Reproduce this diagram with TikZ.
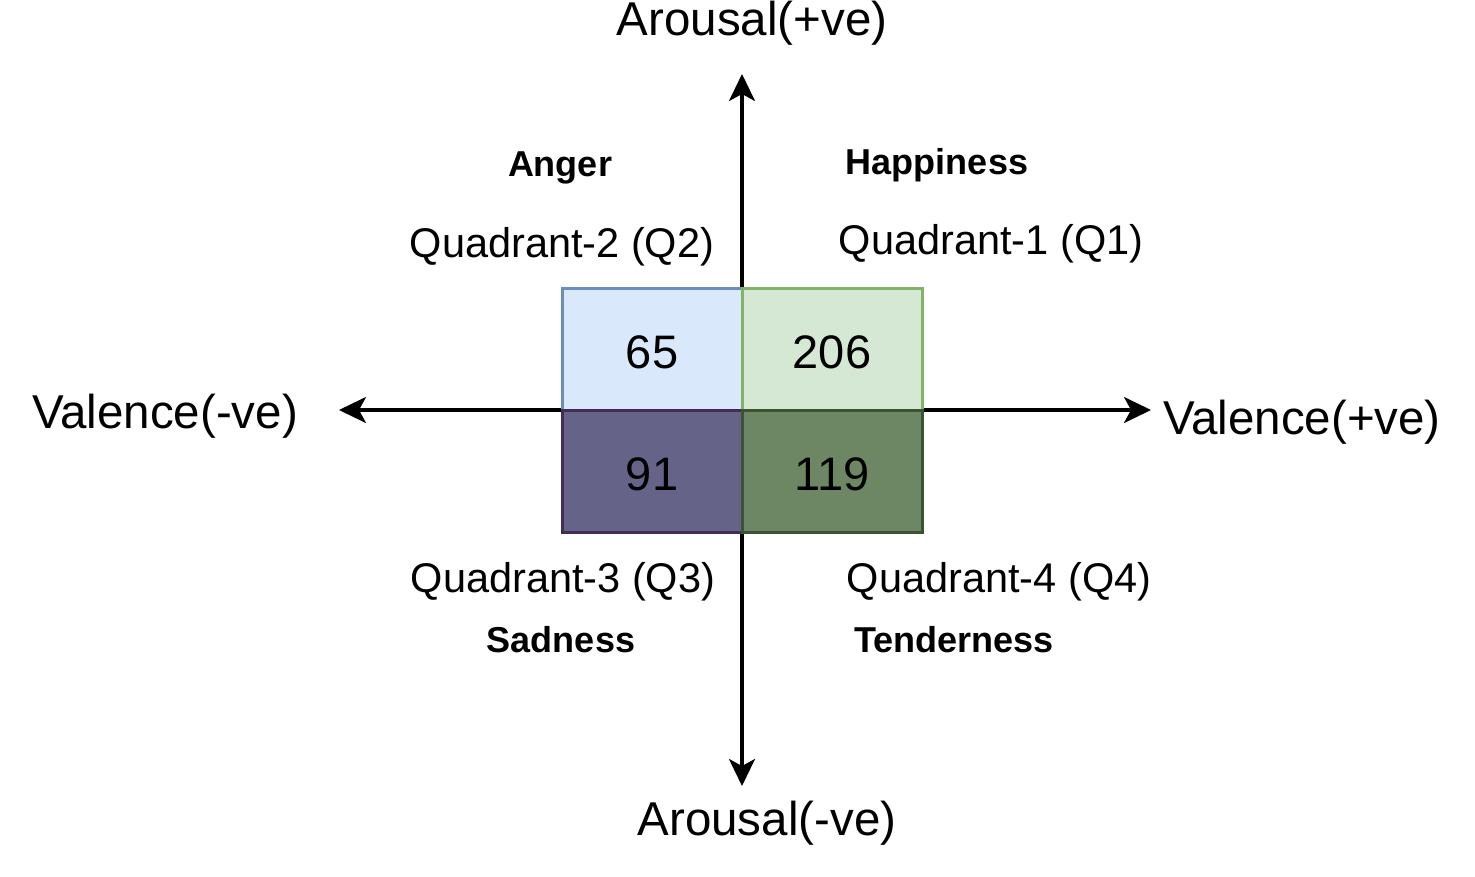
\documentclass[tikz,border=0pt]{standalone}
\usepackage{fontspec}
\setmainfont{Liberation Sans}
\usetikzlibrary{arrows.meta}
\definecolor{qtwofill}{HTML}{DAE8FC}
\definecolor{qtwoline}{HTML}{6C8EBF}
\definecolor{qonefill}{HTML}{D5E8D4}
\definecolor{qoneline}{HTML}{82B366}
\definecolor{qthreefill}{HTML}{656488}
\definecolor{qthreeline}{HTML}{432D57}
\definecolor{qfourfill}{HTML}{6D8764}
\definecolor{qfourline}{HTML}{3A5431}
\tikzset{
  axislabel/.style={inner sep=0pt, font=\fontsize{47.5}{52}\selectfont},
  quadlabel/.style={inner sep=0pt, font=\fontsize{41.5}{46}\selectfont},
  emolabel/.style={inner sep=0pt, font=\fontsize{36}{40}\selectfont\bfseries},
  numlabel/.style={inner sep=0pt, font=\fontsize{47}{50}\selectfont},
  axisline/.style={line width=3.2pt, -{Stealth[length=27pt,width=26pt,inset=7pt]}},
  quadbox/.style={line width=3pt, minimum width=180pt, minimum height=122pt, inner sep=0pt, anchor=center}
}
\begin{document}
\begin{tikzpicture}[x=1pt,y=-1pt]
\useasboundingbox (0,0) rectangle (1475,876);
% axes
\coordinate (o) at (742,410);
\coordinate (top) at (742,74);
\coordinate (bot) at (742,786);
\coordinate (lft) at (339,410);
\coordinate (rgt) at (1151,410);
\draw[axisline] (o) -- (top);
\draw[axisline] (o) -- (bot);
\draw[axisline] (o) -- (lft);
\draw[axisline] (o) -- (rgt);
% boxes
\node[quadbox, draw=qtwoline, fill=qtwofill] (q2) at (652.5,349) {};
\node[quadbox, draw=qoneline, fill=qonefill] (q1) at (832.5,349) {};
\node[quadbox, draw=qthreeline, fill=qthreefill] (q3) at (652.5,471) {};
\node[quadbox, draw=qfourline, fill=qfourfill] (q4) at (832.5,471) {};
\node[numlabel] (n2) at (652,352) {65};
\node[numlabel] (n1) at (832,352) {206};
\node[numlabel] (n3) at (652,474) {91};
\node[numlabel] (n4) at (832,474) {119};
% axis labels
\node[axislabel] (ap) at (752,23) {Arousal(+ve)};
\node[axislabel] (an) at (767,823) {Arousal(-ve)};
\node[axislabel] (vn) at (165,416) {Valence(-ve)};
\node[axislabel] (vp) at (1302,422) {Valence(+ve)};
% quadrant labels
\node[quadlabel] (l2) at (562,247) {Quadrant-2 (Q2)};
\node[quadlabel] (l1) at (991,244) {Quadrant-1 (Q1)};
\node[quadlabel] (l3) at (563,582) {Quadrant-3 (Q3)};
\node[quadlabel] (l4) at (999,582) {Quadrant-4 (Q4)};
% emotion labels
\node[emolabel] (e2) at (560,168) {Anger};
\node[emolabel] (e1) at (937,165) {Happiness};
\node[emolabel] (e3) at (561,640) {Sadness};
\node[emolabel] (e4) at (954,640) {Tenderness};
\end{tikzpicture}
\end{document}
